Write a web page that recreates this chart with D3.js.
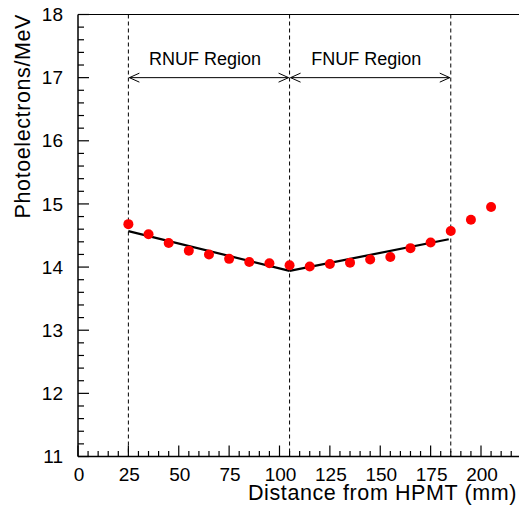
<!DOCTYPE html>
<html>
<head>
<meta charset="utf-8">
<script src="https://cdn.jsdelivr.net/npm/d3@7"></script>
<style>
    body { margin: 0; background: #fff; }
    #chart { width: 519px; height: 505px; }
    text { font-family: "Liberation Sans", Arial, Helvetica, sans-serif; fill: #000; }
</style>
</head>
<body>
<div id="chart"></div>
<script>

// measured points, one every 10 mm
var distances = [25, 35, 45, 55, 65, 75, 85, 95, 105, 115, 125, 135, 145, 155, 165, 175, 185, 195, 205];
var photoelectrons = [14.68, 14.52, 14.38, 14.26, 14.20, 14.13, 14.08, 14.06, 14.03, 14.01,
    14.05, 14.07, 14.12, 14.16, 14.30, 14.39, 14.57, 14.75, 14.95];

// straight-line fits over the two regions
var fitRnuf = [[25, 14.57], [105, 13.94]];
var fitFnuf = [[105, 13.94], [184, 14.44]];

var boundaries = [25, 105, 185];
var regions = [
    { label: 'RNUF Region', from: 25, to: 105 },
    { label: 'FNUF Region', from: 105, to: 185 }
];
var arrowLevel = 17;

var xTicks = [0, 25, 50, 75, 100, 125, 150, 175, 200];
var yTicks = [11, 12, 13, 14, 15, 16, 17, 18];

function drawChart(options) {

    const {
        parentId = 'chart',
        margin = {
            top: 14.5,
            right: 0,
            bottom: 48.5,
            left: 78
        }
    } = options;

    var svgWidth = 519;
    var svgHeight = 505;

    var svg = d3.select('#' + parentId)
        .append('svg')
        .attr('width', svgWidth)
        .attr('height', svgHeight);

    var width = svgWidth - margin.left - margin.right;
    var height = svgHeight - margin.top - margin.bottom;

    var g = svg.append('g')
        .attr('transform', 'translate(' + margin.left + ',' + margin.top + ')');

    var x = d3.scaleLinear().domain([0, 220]).range([0, 2.015 * 220]);
    var y = d3.scaleLinear().domain([11, 18]).range([height, 0]);

    // frame (right side is outside the window)
    g.append('line')
        .attr('x1', 0).attr('x2', width + 5)
        .attr('y1', 0).attr('y2', 0)
        .attr('stroke', '#000').attr('stroke-width', 1.2);

    // x axis, ticks pointing inward
    var xAxis = g.append('g').attr('transform', 'translate(0,' + height + ')');
    xAxis.append('line')
        .attr('x1', 0).attr('x2', width + 5)
        .attr('stroke', '#000').attr('stroke-width', 1.5);
    xAxis.selectAll('.minor')
        .data(d3.range(0, 221, 5))
        .enter().append('line')
        .attr('x1', d => x(d)).attr('x2', d => x(d))
        .attr('y1', 0).attr('y2', d => d % 25 === 0 ? -11 : -5.5)
        .attr('stroke', '#000').attr('stroke-width', 1.2);
    xAxis.selectAll('.lbl')
        .data(xTicks)
        .enter().append('text')
        .attr('x', d => x(d) + 1)
        .attr('y', 24.5)
        .attr('text-anchor', 'middle')
        .style('font-size', '19px')
        .text(d => d);

    // y axis
    var yAxis = g.append('g');
    yAxis.append('line')
        .attr('y1', 0).attr('y2', height)
        .attr('stroke', '#000').attr('stroke-width', 1.5);
    yAxis.selectAll('.minor')
        .data(d3.range(0, 36).map(i => 11 + i * 0.2))
        .enter().append('line')
        .attr('y1', d => y(d)).attr('y2', d => y(d))
        .attr('x1', 0).attr('x2', (d, i) => i % 5 === 0 ? 11 : 6)
        .attr('stroke', '#000').attr('stroke-width', 1.2);
    yAxis.selectAll('.lbl')
        .data(yTicks)
        .enter().append('text')
        .attr('x', -15)
        .attr('y', d => y(d))
        .attr('dy', '0.35em')
        .attr('text-anchor', 'end')
        .style('font-size', '19px')
        .text(d => d);

    // region boundaries
    g.selectAll('.boundary')
        .data(boundaries)
        .enter().append('line')
        .attr('x1', d => x(d)).attr('x2', d => x(d))
        .attr('y1', 0).attr('y2', height)
        .attr('stroke', '#000')
        .attr('stroke-width', 1)
        .attr('stroke-dasharray', '4,3');

    // region arrows and labels
    var ay = y(arrowLevel);
    regions.forEach(r => {
        var x0 = x(r.from) + 1, x1 = x(r.to) - 1;
        g.append('line')
            .attr('x1', x0).attr('x2', x1)
            .attr('y1', ay).attr('y2', ay)
            .attr('stroke', '#000').attr('stroke-width', 1);
        g.append('path')
            .attr('d', 'M' + (x0 + 10) + ',' + (ay - 4.5) + 'L' + x0 + ',' + ay + 'L' + (x0 + 10) + ',' + (ay + 4.5))
            .attr('fill', 'none').attr('stroke', '#000').attr('stroke-width', 1);
        g.append('path')
            .attr('d', 'M' + (x1 - 10) + ',' + (ay - 4.5) + 'L' + x1 + ',' + ay + 'L' + (x1 - 10) + ',' + (ay + 4.5))
            .attr('fill', 'none').attr('stroke', '#000').attr('stroke-width', 1);
        g.append('text')
            .attr('x', x((r.from + r.to) / 2) - 4)
            .attr('y', ay - 12.5)
            .attr('text-anchor', 'middle')
            .style('font-size', '18px')
            .text(r.label);
    });

    // fits
    var line = d3.line().x(d => x(d[0])).y(d => y(d[1]));
    [fitRnuf, fitFnuf].forEach(f => {
        g.append('path')
            .attr('d', line(f))
            .attr('fill', 'none')
            .attr('stroke', '#000')
            .attr('stroke-width', 2.2);
    });

    // data points
    g.selectAll('.pt')
        .data(distances)
        .enter().append('circle')
        .attr('cx', d => x(d))
        .attr('cy', (d, i) => y(photoelectrons[i]))
        .attr('r', 5)
        .attr('fill', '#ff0000');

    // axis titles
    svg.append('text')
        .attr('x', 517)
        .attr('y', 499.5)
        .attr('text-anchor', 'end')
        .style('font-size', '21.5px')
        .style('letter-spacing', '0.6px')
        .text('Distance from HPMT (mm)');

    svg.append('text')
        .attr('transform', 'translate(30,14) rotate(-90)')
        .attr('text-anchor', 'end')
        .style('font-size', '21.5px')
        .style('letter-spacing', '0.6px')
        .text('Photoelectrons/MeV');

    return {
        chart: svg
    };
}

drawChart({});
</script>
</body>
</html>
